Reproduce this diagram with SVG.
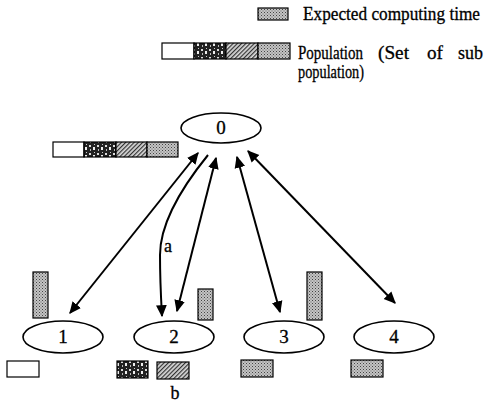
<svg xmlns="http://www.w3.org/2000/svg" width="494" height="404" viewBox="0 0 494 404">
<style>
  text { font-family: "Liberation Serif", "Times New Roman", serif; fill: #000; stroke: #000; stroke-width: 0.3; }
  .lbl { font-size: 18px; }
  .num { font-size: 19px; text-anchor: middle; }
  .node { fill: #fff; stroke: #000; stroke-width: 1.6; }
  .box { stroke: #000; stroke-width: 1.2; }
  .conn { fill: none; stroke: #000; stroke-width: 2; }
</style>
<defs>
  <pattern id="stip" width="3" height="3" patternUnits="userSpaceOnUse">
    <rect width="3" height="3" fill="#c4c4c4"/>
    <rect x="0" y="0" width="1" height="1" fill="#444"/>
    <rect x="1.5" y="1.5" width="1" height="1" fill="#666"/>
  </pattern>
  <pattern id="hatch" width="3" height="3" patternUnits="userSpaceOnUse" patternTransform="rotate(45)">
    <rect width="3" height="3" fill="#d8d8d8"/>
    <rect width="1.2" height="3" fill="#333"/>
  </pattern>
  <pattern id="noisy" width="8" height="8" patternUnits="userSpaceOnUse">
    <rect width="8" height="8" fill="#222"/>
    <rect x="1" y="1" width="2" height="2" fill="#ddd"/>
    <rect x="5" y="3" width="2" height="3" fill="#eee"/>
    <rect x="2" y="5" width="1" height="2" fill="#bbb"/>
    <rect x="6" y="0" width="1" height="1" fill="#ccc"/>
  </pattern>
  <marker id="ah" viewBox="0 0 10 10" refX="9" refY="5" markerWidth="6" markerHeight="6" orient="auto-start-reverse" markerUnits="strokeWidth">
    <path d="M0,0.5 L10,5 L0,9.5 z" fill="#000"/>
  </marker>
</defs>

<g id="legend">
  <rect class="box" x="258" y="8" width="30" height="12" fill="url(#stip)"/>
  <text class="lbl" x="303" y="20" textLength="177" lengthAdjust="spacingAndGlyphs">Expected computing time</text>
  <rect class="box" x="162" y="43" width="32" height="16" fill="#fff"/>
  <rect class="box" x="194" y="43" width="32" height="16" fill="url(#noisy)"/>
  <rect class="box" x="226" y="43" width="32" height="16" fill="url(#hatch)"/>
  <rect class="box" x="258" y="43" width="32" height="16" fill="url(#stip)"/>
  <text class="lbl" x="298" y="59" textLength="65" lengthAdjust="spacingAndGlyphs">Population</text>
  <text class="lbl" x="378" y="59" textLength="31" lengthAdjust="spacingAndGlyphs">(Set</text>
  <text class="lbl" x="427" y="59" textLength="16" lengthAdjust="spacingAndGlyphs">of</text>
  <text class="lbl" x="458" y="59" textLength="25" lengthAdjust="spacingAndGlyphs">sub</text>
  <text class="lbl" x="298" y="78" textLength="66" lengthAdjust="spacingAndGlyphs">population)</text>
</g>

<g id="node0">
  <ellipse class="node" cx="221" cy="128" rx="40" ry="15"/>
  <text class="num" x="221" y="134">0</text>
  <rect class="box" x="53" y="142" width="31" height="15" fill="#fff"/>
  <rect class="box" x="84" y="142" width="32" height="15" fill="url(#noisy)"/>
  <rect class="box" x="116" y="142" width="31" height="15" fill="url(#hatch)"/>
  <rect class="box" x="147" y="142" width="31" height="15" fill="url(#stip)"/>
</g>

<g id="node1">
  <ellipse class="node" cx="63" cy="337" rx="40" ry="16"/>
  <text class="num" x="63" y="343">1</text>
  <rect class="box" x="33" y="272" width="15" height="46" fill="url(#stip)"/>
  <rect class="box" x="7" y="361" width="32" height="16" fill="#fff"/>
</g>

<g id="node2">
  <ellipse class="node" cx="174" cy="337" rx="40" ry="16"/>
  <text class="num" x="174" y="343">2</text>
  <rect class="box" x="198" y="289" width="15" height="31" fill="url(#stip)"/>
  <rect class="box" x="117" y="361" width="31" height="17" fill="url(#noisy)"/>
  <rect class="box" x="157" y="362" width="32" height="17" fill="url(#hatch)"/>
  <text class="lbl" x="175" y="399" text-anchor="middle">b</text>
</g>

<g id="node3">
  <ellipse class="node" cx="284" cy="337" rx="40" ry="16"/>
  <text class="num" x="284" y="343">3</text>
  <rect class="box" x="307" y="272" width="15" height="48" fill="url(#stip)"/>
  <rect class="box" x="241" y="360" width="32" height="17" fill="url(#stip)"/>
</g>

<g id="node4">
  <ellipse class="node" cx="394" cy="337" rx="40" ry="16"/>
  <text class="num" x="394" y="343">4</text>
  <rect class="box" x="351" y="360" width="32" height="17" fill="url(#stip)"/>
</g>

<g id="connectors">
  <line class="conn" x1="198" y1="153" x2="70" y2="313" marker-start="url(#ah)" marker-end="url(#ah)"/>
  <path class="conn" d="M208,155 C178,192 160,225 160,255 C160,282 161,298 162,316" marker-end="url(#ah)"/>
  <line class="conn" x1="216" y1="158" x2="177" y2="311" marker-start="url(#ah)" marker-end="url(#ah)"/>
  <line class="conn" x1="237" y1="157" x2="280" y2="312" marker-start="url(#ah)" marker-end="url(#ah)"/>
  <line class="conn" x1="248" y1="151" x2="395" y2="303" marker-start="url(#ah)" marker-end="url(#ah)"/>
  <text class="lbl" x="168" y="252" text-anchor="middle">a</text>
</g>
</svg>
